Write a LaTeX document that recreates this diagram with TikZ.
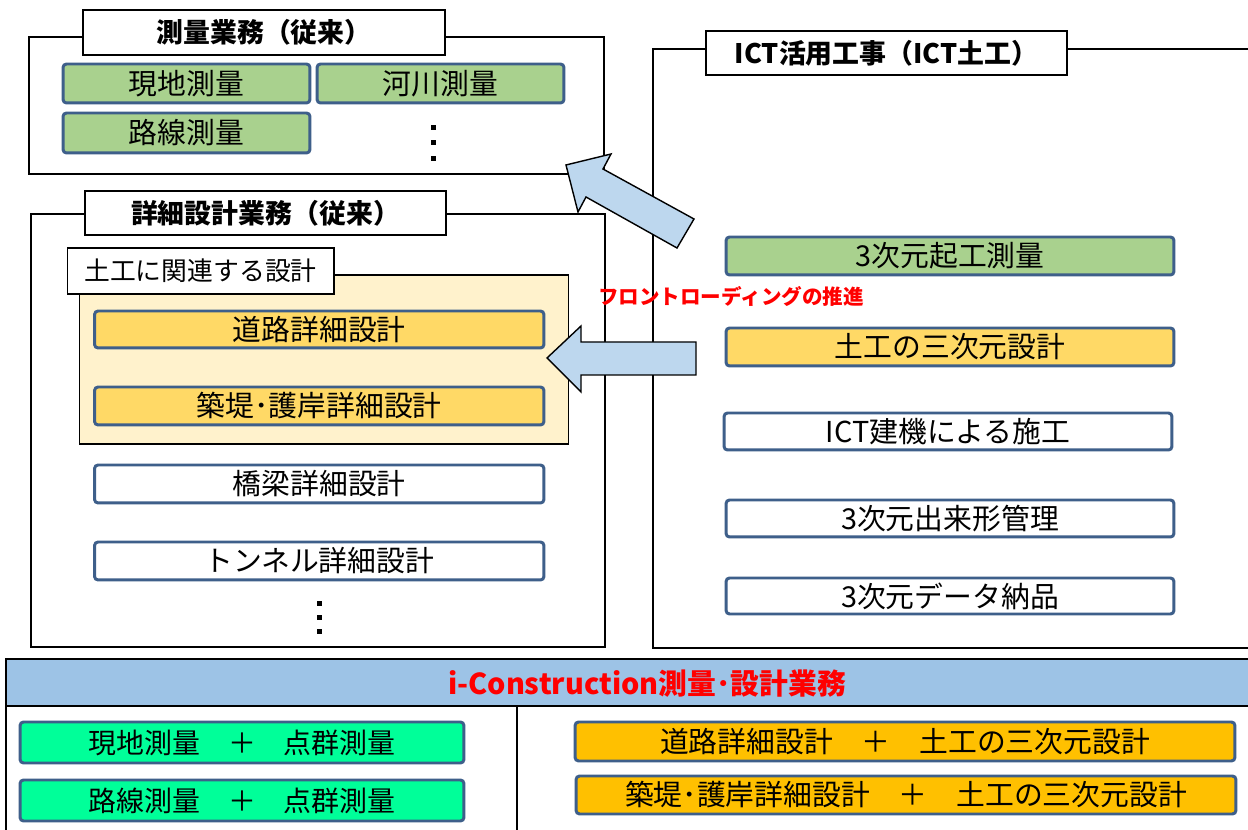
\documentclass[tikz,border=0pt]{standalone}
\usepackage{fontspec}
\setmainfont{Noto Sans CJK JP}
\begin{document}
\definecolor{bordc}{HTML}{3E5F8A}
\definecolor{gtop}{HTML}{A9D18E}
\definecolor{ytop}{HTML}{FFD966}
\definecolor{ylight}{HTML}{FFF2CC}
\definecolor{gbot}{HTML}{00FF99}
\definecolor{obot}{HTML}{FFC000}
\definecolor{headc}{HTML}{9DC3E6}
\definecolor{arrc}{HTML}{BDD7EE}
\begin{tikzpicture}[x=0.02cm,y=-0.02cm,
  frame/.style={draw=black,line width=0.8pt,fill=white,inner sep=0pt},
  titlebox/.style={draw=black,line width=0.8pt,fill=white,inner sep=0pt,minimum width=7.22cm,minimum height=0.88cm,font=\fontsize{15.3pt}{18pt}\selectfont\bfseries},
  itembox/.style={draw=bordc,line width=1.7pt,rounded corners=2pt,inner sep=0pt,minimum width=8.96cm,minimum height=0.76cm,font=\fontsize{16.4pt}{19pt}\selectfont},
  gbox/.style={itembox,fill=gtop},
  ybox/.style={itembox,fill=ytop},
  wbox/.style={itembox,fill=white},
  blockarrow/.style={draw=black,line width=0.8pt,fill=arrc},
  dotsq/.style={fill=black}]
\useasboundingbox (0,0) rectangle (1248,830);
\fill[white] (0,0) rectangle (1248,830);

% ---- ICT frame (open to the right) ----
\coordinate (ictTR) at (1248,49);
\coordinate (ictTL) at (653,49);
\coordinate (ictBL) at (653,648);
\coordinate (ictBR) at (1248,648);
\draw[line width=0.8pt] (ictTR) -- (ictTL) -- (ictBL) -- (ictBR);
\node[titlebox] (icttitle) at (886.5,53) {ICT活用工事（ICT土工）};

\node[gbox] (r1) at (950,256) {3次元起工測量};
\node[ybox] (r2) at (950,347) {土工の三次元設計};
\node[wbox,minimum height=0.74cm] (r3) at (948,431.5) {ICT建機による施工};
\node[wbox,minimum height=0.74cm] (r4) at (950,518.5) {3次元出来形管理};
\node[wbox,minimum height=0.72cm] (r5) at (950,596) {3次元データ納品};

% ---- Survey frame ----
\node[frame,minimum width=11.5cm,minimum height=2.74cm] (survey) at (316.5,105.5) {};
\node[titlebox,minimum width=7.24cm,minimum height=0.9cm] (surveytitle) at (264,32.5) {測量業務（従来）};
\node[gbox,minimum width=4.94cm,minimum height=0.78cm] (g1) at (186.5,83.5) {現地測量};
\node[gbox,minimum width=4.94cm,minimum height=0.78cm] (g2) at (440.5,83.5) {河川測量};
\node[gbox,minimum width=4.94cm,minimum height=0.8cm] (g3) at (186.5,133) {路線測量};
\foreach \yy in {128,143,159} \fill[dotsq] (430.5,\yy-2.5) rectangle (435.5,\yy+2.5);

% ---- Design frame ----
\node[frame,minimum width=11.48cm,minimum height=8.66cm] (design) at (318,430.5) {};
\node[titlebox] (designtitle) at (265.5,213) {詳細設計業務（従来）};
\node[draw=black,line width=0.6pt,fill=ylight,minimum width=9.8cm,minimum height=3.38cm,inner sep=0pt] (earth) at (324,359.5) {};
\node[draw=black,line width=0.6pt,fill=white,minimum width=5.34cm,minimum height=0.92cm,inner sep=0pt,font=\fontsize{14.7pt}{17pt}\selectfont] (earthlabel) at (200.5,271) {土工に関連する設計};
\node[ybox,minimum width=8.99cm,minimum height=0.74cm] (y1) at (319.25,329.5) {道路詳細設計};
\node[ybox,minimum width=8.99cm] (y2) at (319.25,406) {築堤･護岸詳細設計};
\node[wbox,minimum width=8.99cm] (w1) at (319.25,484) {橋梁詳細設計};
\node[wbox,minimum width=8.99cm] (w2) at (319.25,561) {トンネル詳細設計};
\foreach \yy in {604,618,632} \fill[dotsq] (316.5,\yy-2.5) rectangle (321.5,\yy+2.5);

% ---- Block arrows ----
\draw[blockarrow] (566,165) -- (611,154) -- (603,169) -- (694,219) -- (677,248) -- (586,197) -- (578,212) -- cycle;
\draw[blockarrow] (547,358) -- (581,326) -- (581,342) -- (696,342) -- (696,375) -- (581,375) -- (581,392) -- cycle;

\node[text=red,font=\fontsize{11.7pt}{14pt}\selectfont\bfseries,inner sep=0pt] (front) at (731,297) {フロントローディングの推進};

% ---- Bottom section ----
\fill[headc] (6,659) rectangle (1248,706);
\draw[line width=0.8pt] (1248,659) -- (6,659) -- (6,830);
\draw[line width=0.8pt] (6,706) -- (1248,706);
\coordinate (divtop) at (517,706);
\coordinate (divbot) at (517,830);
\draw[line width=0.8pt] (divtop) -- (divbot);
\node[text=red,font=\fontsize{16.4pt}{19pt}\selectfont\bfseries,inner sep=0pt] (ictitle) at (647,684) {i-Construction測量･設計業務};

\node[itembox,fill=gbot,minimum width=8.88cm,minimum height=0.82cm,font=\fontsize{15.9pt}{19pt}\selectfont] (b1) at (242,742.5) {現地測量　＋　点群測量};
\node[itembox,fill=gbot,minimum width=8.88cm,minimum height=0.82cm,font=\fontsize{15.9pt}{19pt}\selectfont] (b2) at (242,800.5) {路線測量　＋　点群測量};
\node[itembox,fill=obot,minimum width=13.2cm,minimum height=0.78cm] (o1) at (905,741.5) {道路詳細設計　＋　土工の三次元設計};
\node[itembox,fill=obot,minimum width=13.2cm,minimum height=0.76cm] (o2) at (906,795) {築堤･護岸詳細設計　＋　土工の三次元設計};
\end{tikzpicture}
\end{document}
